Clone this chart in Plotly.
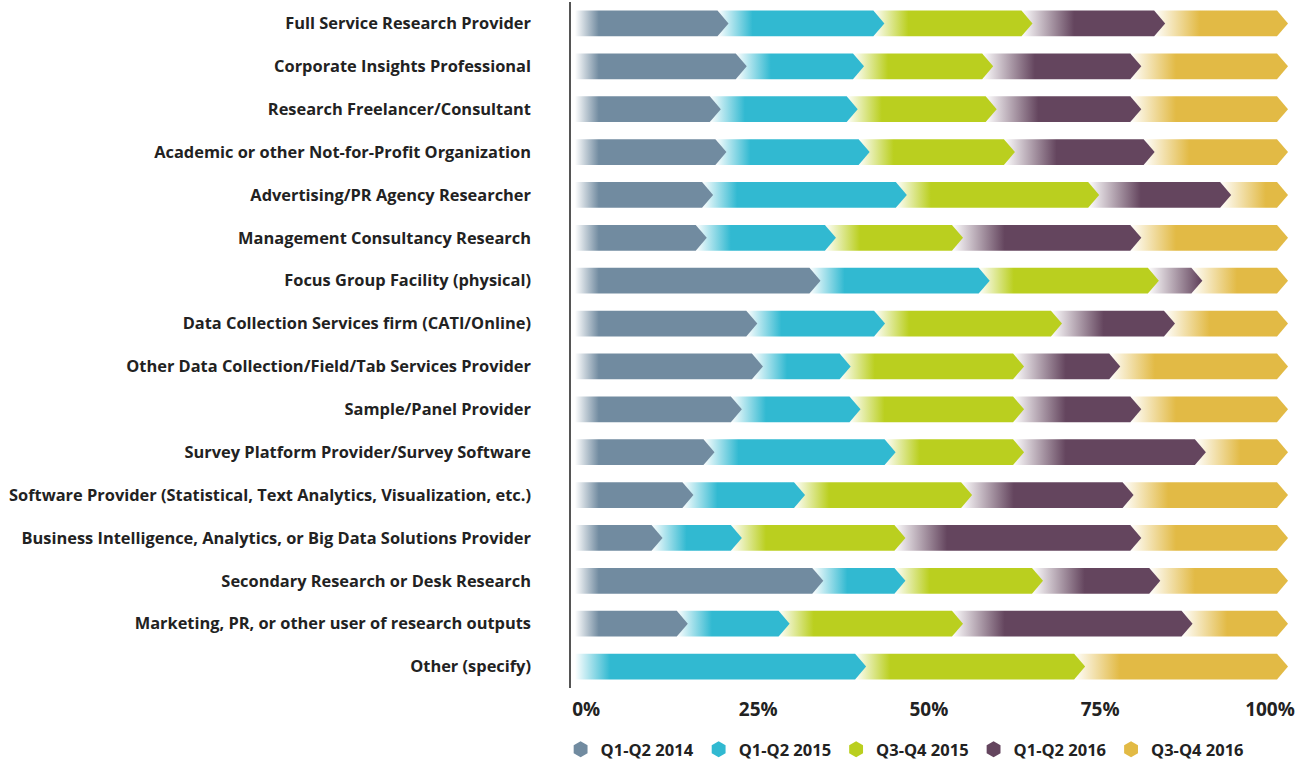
import plotly.graph_objects as go

categories = [
    "Full Service Research Provider",
    "Corporate Insights Professional",
    "Research Freelancer/Consultant",
    "Academic or other Not-for-Profit Organization",
    "Advertising/PR Agency Researcher",
    "Management Consultancy Research",
    "Focus Group Facility (physical)",
    "Data Collection Services firm (CATI/Online)",
    "Other Data Collection/Field/Tab Services Provider",
    "Sample/Panel Provider",
    "Survey Platform Provider/Survey Software",
    "Software Provider (Statistical, Text Analytics, Visualization, etc.)",
    "Business Intelligence, Analytics, or Big Data Solutions Provider",
    "Secondary Research or Desk Research",
    "Marketing, PR, or other user of research outputs",
    "Other (specify)",
]

series_names = ["Q1-Q2 2014", "Q1-Q2 2015", "Q3-Q4 2015", "Q1-Q2 2016", "Q3-Q4 2016"]

q1_q2_2014 = [20.3, 22.9, 19.2, 20.0, 18.1, 17.2, 33.4, 24.4, 25.2, 22.2, 18.3, 15.3, 10.9, 33.8, 14.5, 0.0]
q1_q2_2015 = [22.2, 16.7, 19.5, 20.4, 27.6, 18.4, 24.1, 18.2, 12.5, 16.9, 25.8, 15.9, 11.3, 11.7, 14.5, 39.9]
q3_q4_2015 = [21.1, 18.4, 19.8, 20.7, 27.4, 18.1, 24.1, 25.2, 24.7, 23.3, 18.3, 23.8, 23.3, 19.6, 24.7, 31.2]
q1_q2_2016 = [18.9, 21.1, 20.6, 19.9, 18.8, 25.4, 6.2, 16.1, 13.7, 16.7, 25.9, 23.0, 33.6, 16.7, 32.7, 0.0]
q3_q4_2016 = [17.5, 20.9, 20.9, 19.0, 8.1, 20.9, 12.2, 16.1, 23.9, 20.9, 11.7, 22.0, 20.9, 18.2, 13.6, 28.9]

tick_labels = ["0%", "25%", "50%", "75%", "100%"]

series_values = [q1_q2_2014, q1_q2_2015, q3_q4_2015, q1_q2_2016, q3_q4_2016]
colors = ["#718BA0", "#31B9D1", "#BACF1F", "#64455E", "#E2BA45"]
fade_len = [3.4, 5.0, 5.0, 7.5, 6.5]   # gradient length (axis units)

ARROW = 1.57   # arrow point depth (axis units)
HALF = 0.30    # half bar thickness (category units)

n = len(categories)
starts = [[0.0] * n for _ in series_values]
for i in range(n):
    acc = 0.0
    for s in range(len(series_values)):
        starts[s][i] = acc
        acc += series_values[s][i]

fig = go.Figure()

# legend entries
for s, name in enumerate(series_names):
    fig.add_trace(go.Scatter(
        x=[None], y=[None], mode="markers", name=name, legendgroup=name,
        marker=dict(symbol="hexagon", size=17, color=colors[s]),
    ))

# segments drawn right to left so that each arrow point sits above the next segment's fade
for s in reversed(range(len(series_values))):
    for i in range(n):
        v = series_values[s][i]
        if v <= 0:
            continue
        x0 = starts[s][i]
        x1 = x0 + v
        xs = [x0, x1, x1 + ARROW, x1, x0, x0]
        ys = [i - HALF, i - HALF, i, i + HALF, i + HALF, i - HALF]
        fig.add_trace(go.Scatter(
            x=xs, y=ys, mode="lines", line=dict(width=0, color=colors[s]),
            fill="toself", fillcolor=colors[s],
            fillgradient=dict(type="horizontal", start=x0, stop=x0 + fade_len[s],
                              colorscale=[[0, "#ffffff"], [1, colors[s]]]),
            name=series_names[s], legendgroup=series_names[s], showlegend=False,
            hoveron="fills",
            text=f"{categories[i]}<br>{series_names[s]}: {v:.1f}%", hoverinfo="text",
        ))

FONT = "'Open Sans', Lato, sans-serif"

fig.update_layout(
    width=1296, height=764,
    margin=dict(l=571, r=6, t=2, b=76),
    plot_bgcolor="white", paper_bgcolor="white",
    font=dict(family=FONT, color="#222222"),
    xaxis=dict(
        range=[-0.57, 101.85],
        tickvals=[1.6, 26.1, 50.4, 74.8, 99.0], ticktext=tick_labels,
        showgrid=False, zeroline=False, showline=False, ticks="",
        tickfont=dict(family=FONT, size=19, weight="bold", color="#222222"),
        ticklabelstandoff=8, ticklabeloverflow="allow", automargin=False,
    ),
    yaxis=dict(
        range=[n - 0.5, -0.5], tickvals=list(range(n)), ticktext=categories,
        showgrid=False, zeroline=False, showline=True, linecolor="#555555", linewidth=1.5,
        ticks="", tickfont=dict(family=FONT, size=16.4, weight="bold", color="#222222"),
        ticklabelstandoff=35, automargin=False,
    ),
    legend=dict(
        orientation="h", xref="container", yref="container",
        x=0.698, y=0.0419, xanchor="center", yanchor="top",
        font=dict(family=FONT, size=16.5, weight="bold", color="#222222"),
        itemwidth=30, tracegroupgap=0,
    ),
    showlegend=True,
)

fig.write_html("out.html", config={"displayModeBar": False},
               post_script="document.body.style.margin='0';")
